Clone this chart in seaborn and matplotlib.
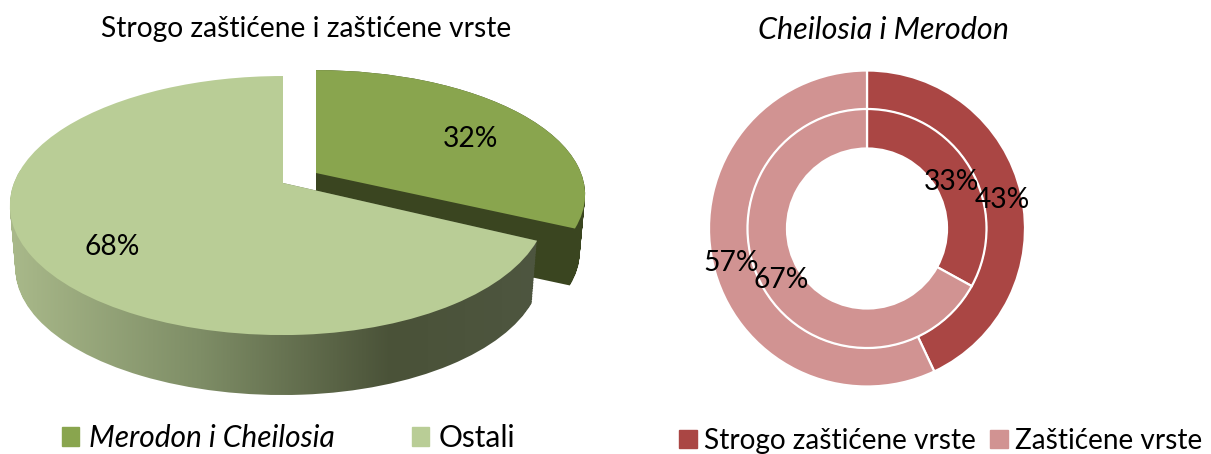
import numpy as np
import matplotlib
matplotlib.use("Agg")
import matplotlib.pyplot as plt
import seaborn as sns
from matplotlib.colors import LinearSegmentedColormap
from matplotlib.patches import Patch, PathPatch
from matplotlib.path import Path
from matplotlib.transforms import Transform

title_left = "Strogo zaštićene i zaštićene vrste"
title_right = "Cheilosia i Merodon"
pie_labels = ["Merodon i Cheilosia", "Ostali"]
pie_values = [32, 68]
ring_labels = ["Strogo zaštićene vrste", "Zaštićene vrste"]
outer_values = [43, 57]
inner_values = [33, 67]

W, H = 1211, 454
sns.set_theme(style="white")
plt.rcParams["font.family"] = ["Lato", "DejaVu Sans"]
green_pal = sns.color_palette(["#89A54E", "#B9CD96"])
red_pal = sns.color_palette(["#AA4644", "#D19392"])
FS = 20.3


class Perspective(Transform):
    input_dims = output_dims = 2
    has_inverse = False

    def __init__(self, cx, cy, bl, br, a=125.6, p=0.174, s=1.0, dy=0.0):
        super().__init__()
        self.v = (cx, cy, bl, br, a, p, s, dy)

    def transform_non_affine(self, values):
        cx, cy, bl, br, a, p, s, dy = self.v
        x, y = np.asarray(values).T
        d = 1 + p * y
        return np.column_stack([cx + np.where(x < 0, bl, br) * x / d * s,
                                cy + dy - a * y / d * s])


def stack(path, geom, depth=63, shrink=0.02, n=40):
    parts = []
    for t in np.linspace(0, 1, n):
        tr = Perspective(*geom, s=1 - shrink * t, dy=depth * t)
        parts.append(Path(tr.transform_non_affine(path.vertices), path.codes))
    return Path.make_compound_path(*parts)


fig = plt.figure(figsize=(W / 100, H / 100), dpi=100)
ax = fig.add_axes([0, 0, 1, 1])
wedges, _ = ax.pie(pie_values, colors=green_pal, startangle=90, counterclock=False,
                   wedgeprops={"linewidth": 0})
geoms = [(316, 173, 265, 265, 120.8), (283, 183, 269, 260, 125.6)]
wedges[0].set_transform(Perspective(*geoms[0]) + ax.transData)
wedges[1].set_transform(Perspective(*geoms[1]) + ax.transData)
wedges[0].set_zorder(2)
wedges[1].set_zorder(4)

ax.add_patch(PathPatch(stack(wedges[0].get_path(), geoms[0], depth=58), facecolor="#3A4520",
                       edgecolor="none", zorder=1))
wall_cmap = LinearSegmentedColormap.from_list(
    "wall", [(0, "#A9B98A"), (0.36, "#7E8D66"), (0.72, "#4A5238"), (1, "#4E5640")])
im = ax.imshow(np.linspace(0, 1, 256)[None, :], extent=(10, 540, 420, 170), aspect="auto",
               cmap=wall_cmap, zorder=3)
im.set_clip_path(stack(wedges[1].get_path(), geoms[1]), transform=ax.transData)
ax.set_aspect("auto")
ax.set_xlim(0, W)
ax.set_ylim(H, 0)
ax.axis("off")

# doughnut
cx, cy, half = 867, 228.5, 200
ax2 = fig.add_axes([(cx - half) / W, 1 - (cy + half) / H, 2 * half / W, 2 * half / H])
edge = {"edgecolor": "white", "linewidth": 1.6}
ax2.pie(outer_values, radius=158, colors=red_pal, startangle=90, counterclock=False,
        wedgeprops={"width": 39, **edge})
ax2.pie(inner_values, radius=119.5, colors=red_pal, startangle=90, counterclock=False,
        wedgeprops={"width": 39.5, **edge})
ax2.set_xlim(-half, half)
ax2.set_ylim(-half, half)
ax2.set_aspect("equal")
ax2.axis("off")

# text overlay
ov = fig.add_axes([0, 0, 1, 1], zorder=5)
ov.set_xlim(0, W)
ov.set_ylim(H, 0)
ov.patch.set_alpha(0)
ov.axis("off")
ov.text(306, 29, title_left, ha="center", va="center", fontsize=FS, color="black")
ov.text(883, 30, title_right, ha="center", va="center", fontsize=22, color="black", style="italic")
for val, x, y in [(pie_values[0], 471, 139), (pie_values[1], 112, 247),
                  (inner_values[0], 952, 182), (outer_values[0], 1002, 200),
                  (outer_values[1], 731, 263), (inner_values[1], 781, 280)]:
    ov.text(x, y, f"{val}%", ha="center", va="center", fontsize=FS, color="black")

leg1 = ov.legend([Patch(color=c) for c in green_pal], pie_labels, ncol=2, frameon=False,
                 loc="center left", bbox_to_anchor=(62, 438), bbox_transform=ov.transData,
                 fontsize=21.5, handlelength=0.57, handleheight=0.6, handletextpad=0.33,
                 columnspacing=2.58, borderpad=0, borderaxespad=0, labelcolor="black")
leg1.get_texts()[0].set_style("italic")
ov.add_artist(leg1)
ov.legend([Patch(color=c) for c in red_pal], ring_labels, ncol=2, frameon=False,
          loc="center left", bbox_to_anchor=(679, 441), bbox_transform=ov.transData,
          fontsize=20.2, handlelength=0.63, handleheight=0.6, handletextpad=0.26,
          columnspacing=0.5, borderpad=0, borderaxespad=0, labelcolor="black")
fig.savefig("out.png", dpi=100, facecolor="white")
